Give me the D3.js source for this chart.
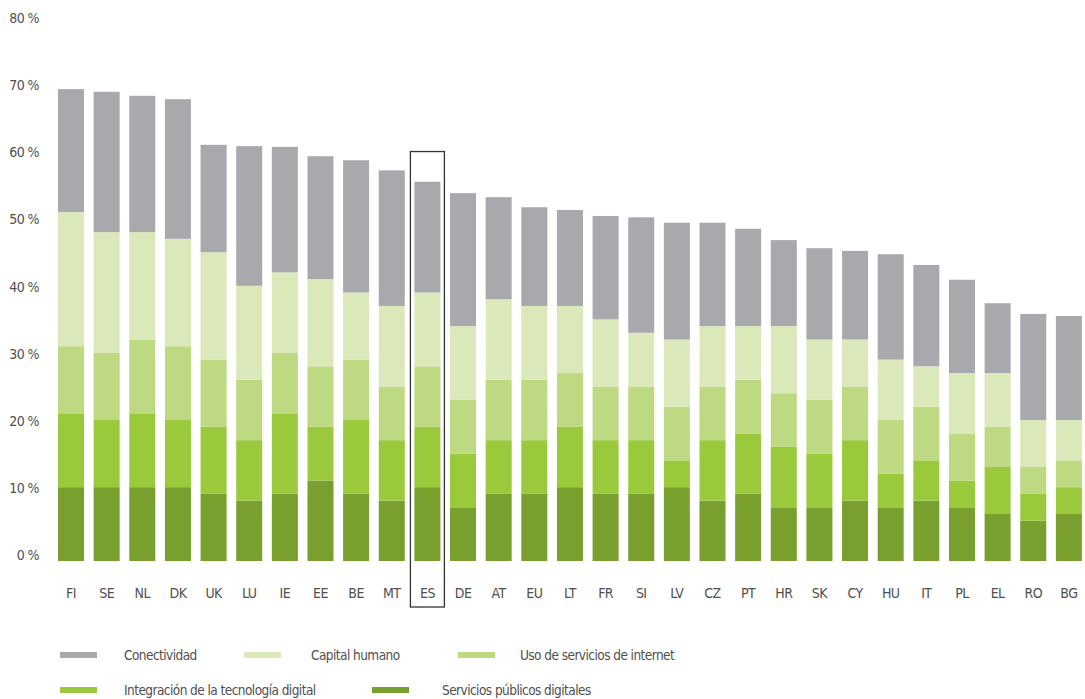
<!DOCTYPE html>
<html>
<head>
<meta charset="utf-8">
<script src="https://cdn.jsdelivr.net/npm/d3@7"></script>
<style>
  html, body { margin: 0; padding: 0; background: #fff; }
  svg { display: block; }
  text { font-family: "DejaVu Sans Condensed", "DejaVu Sans", sans-serif; font-stretch: condensed; fill: #505050; letter-spacing: -0.55px; }
</style>
</head>
<body>
<svg id="chart" width="1085" height="699"></svg>
<script>
// ---- Data ----
const countries = ["FI","SE","NL","DK","UK","LU","IE","EE","BE","MT","ES","DE","AT","EU","LT","FR","SI","LV","CZ","PT","HR","SK","CY","HU","IT","PL","EL","RO","BG"];
const serviciosPublicos = [11,11,11,11,10,9,10,12,10,9,11,8,10,10,11,10,10,11,9,10,8,8,9,8,9,8,7,6,7];
const integracion       = [11,10,11,10,10,9,12,8,11,9,9,8,8,8,9,8,8,4,9,9,9,8,9,5,6,4,7,4,4];
const usoInternet       = [10,10,11,11,10,9,9,9,9,8,9,8,9,9,8,8,8,8,8,8,8,8,8,8,8,7,6,4,4];
const capitalHumano     = [20,18,16,16,16,14,12,13,10,12,11,11,12,11,10,10,8,10,9,8,10,9,7,9,6,9,8,7,6];
const conectividad      = [18.3,20.9,20.3,20.8,16.0,20.8,18.7,18.3,19.7,20.2,16.5,19.8,15.2,14.7,14.3,15.4,17.2,17.4,15.4,14.5,12.8,13.6,13.2,15.7,15.1,13.9,10.4,15.8,15.5];
const yTicks = [0,10,20,30,40,50,60,70,80];
const highlighted = "ES";

const seriesNames = ["Servicios públicos digitales","Integración de la tecnología digital","Uso de servicios de internet","Capital humano","Conectividad"];
const seriesValues = [serviciosPublicos, integracion, usoInternet, capitalHumano, conectividad];
const seriesColors = ["#79a02e","#9aca3c","#bdd981","#dbe9ba","#a8a9ad"];

// ---- Layout ----
const svg = d3.select("#chart");
const x = d3.scaleBand().domain(countries).range([53.2, 1086.7]).paddingInner(0.27).paddingOuter(0.135);
const y = d3.scaleLinear().domain([0, 80]).range([561, 24]);

const rows = countries.map((c, i) => {
  const r = { country: c };
  seriesNames.forEach((s, k) => r[s] = seriesValues[k][i]);
  return r;
});
const stack = d3.stack().keys(seriesNames)(rows);
const color = d3.scaleOrdinal().domain(seriesNames).range(seriesColors);

// y axis labels (text baseline sits on the tick level)
const yAxis = svg.append("g").attr("transform", "translate(39,0)")
  .call(d3.axisLeft(y).tickValues(yTicks).tickSize(0).tickPadding(0).tickFormat(d => d + " %"));
yAxis.select(".domain").remove();
yAxis.selectAll("text").attr("y", -1.5).attr("dy", "0").style("font-size", "14px").attr("fill", "#505050");

// bars
svg.append("g").selectAll("g").data(stack).join("g")
  .attr("fill", d => color(d.key))
  .selectAll("rect").data(d => d).join("rect")
  .attr("x", d => x(d.data.country))
  .attr("width", x.bandwidth())
  .attr("y", d => y(d[1]))
  .attr("height", d => y(d[0]) - y(d[1]));

// x axis labels
const xAxis = svg.append("g").attr("transform", "translate(0,561)")
  .call(d3.axisBottom(x).tickSize(0).tickPadding(0));
xAxis.select(".domain").remove();
xAxis.selectAll("text").attr("y", 32).attr("dy", "0.35em")
  .style("font-size", "14px").attr("fill", "#505050");

// highlight box
const hx = x(highlighted) + x.bandwidth() / 2;
svg.append("rect")
  .attr("x", hx - 17).attr("width", 34)
  .attr("y", y(61)).attr("height", y(0) + 46 - y(61))
  .attr("fill", "none").attr("stroke", "#333").attr("stroke-width", 1.3);

// legend
const legendItems = [
  { name: "Conectividad", sx: 60, tx: 124, row: 0 },
  { name: "Capital humano", sx: 244, tx: 311, row: 0 },
  { name: "Uso de servicios de internet", sx: 458, tx: 520, row: 0 },
  { name: "Integración de la tecnología digital", sx: 60, tx: 124, row: 1 },
  { name: "Servicios públicos digitales", sx: 372, tx: 442, row: 1 }
];
const rowY = [655, 690];
const lg = svg.append("g");
legendItems.forEach(it => {
  lg.append("rect").attr("x", it.sx).attr("y", rowY[it.row] - 3).attr("width", 37).attr("height", 6)
    .attr("fill", color(it.name));
  lg.append("text").attr("x", it.tx).attr("y", rowY[it.row]).attr("dy", "0.35em")
    .style("font-size", "13.5px").text(it.name);
});
</script>
</body>
</html>
